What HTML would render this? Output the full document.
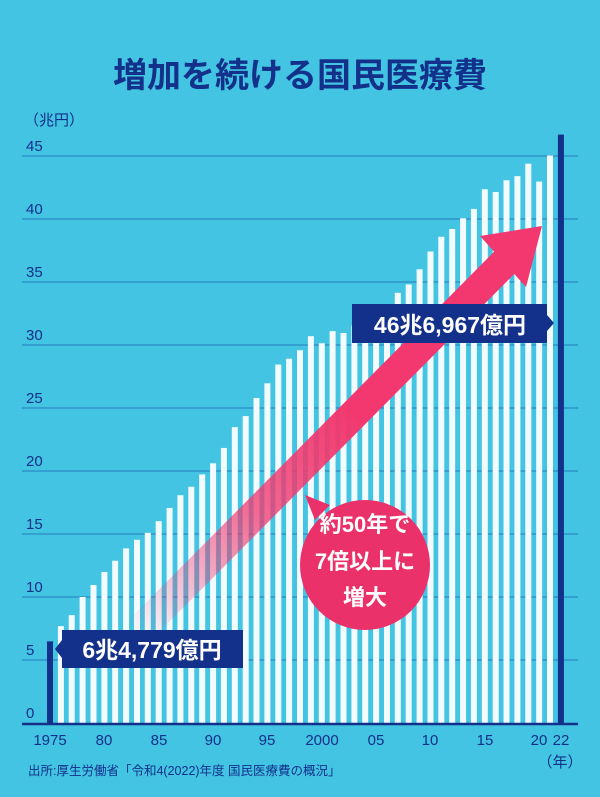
<!DOCTYPE html>
<html><head><meta charset="utf-8"><style>
html,body{margin:0;padding:0}
body{width:600px;height:797px;background:#43c4e2;overflow:hidden;position:relative;font-family:"Liberation Sans","Noto Sans CJK JP",sans-serif}
svg{position:absolute;left:0;top:0}
</style></head><body>
<svg width="600" height="797" viewBox="0 0 600 797">
<defs>
<linearGradient id="ag" gradientUnits="userSpaceOnUse" x1="135" y1="635" x2="540" y2="230">
<stop offset="0" stop-color="#f2386e" stop-opacity="0"/>
<stop offset="0.3" stop-color="#f2386e" stop-opacity="0.75"/>
<stop offset="0.55" stop-color="#f2386e" stop-opacity="1"/>
<stop offset="1" stop-color="#f2386e"/>
</linearGradient>
</defs>
<text x="300" y="87" text-anchor="middle" font-size="34" font-weight="bold" fill="#13308a" font-family="Liberation Sans,Noto Sans CJK JP,sans-serif">増加を続ける国民医療費</text>
<g font-size="15" fill="#13308a" font-family="Liberation Sans,Noto Sans CJK JP,sans-serif">
<text x="24" y="125">（兆円）</text>
<text x="26" y="151">45</text><text x="26" y="214">40</text><text x="26" y="277">35</text><text x="26" y="340">30</text><text x="26" y="403">25</text><text x="26" y="466">20</text><text x="26" y="529">15</text><text x="26" y="592">10</text><text x="26" y="655">5</text><text x="26" y="718">0</text>
</g>
<g stroke="#2f93c9" stroke-width="1.5">
<line x1="22" y1="156" x2="578" y2="156"/><line x1="22" y1="219" x2="578" y2="219"/><line x1="22" y1="282" x2="578" y2="282"/><line x1="22" y1="345" x2="578" y2="345"/><line x1="22" y1="408" x2="578" y2="408"/><line x1="22" y1="471" x2="578" y2="471"/><line x1="22" y1="534" x2="578" y2="534"/><line x1="22" y1="597" x2="578" y2="597"/><line x1="22" y1="660" x2="578" y2="660"/>
</g>
<g transform="translate(0,723) scale(1,-12.6)" fill="#f2fcff">
<rect x="47" y="0" width="6" height="6.48" fill="#13308a"/>
<rect x="57.9" y="0" width="6" height="7.69"/>
<rect x="68.7" y="0" width="6" height="8.56"/>
<rect x="79.6" y="0" width="6" height="10.00"/>
<rect x="90.5" y="0" width="6" height="10.95"/>
<rect x="101.4" y="0" width="6" height="11.98"/>
<rect x="112.2" y="0" width="6" height="12.88"/>
<rect x="123.1" y="0" width="6" height="13.86"/>
<rect x="134" y="0" width="6" height="14.54"/>
<rect x="144.8" y="0" width="6" height="15.09"/>
<rect x="155.7" y="0" width="6" height="16.02"/>
<rect x="166.6" y="0" width="6" height="17.07"/>
<rect x="177.4" y="0" width="6" height="18.08"/>
<rect x="188.3" y="0" width="6" height="18.75"/>
<rect x="199.2" y="0" width="6" height="19.73"/>
<rect x="210.1" y="0" width="6" height="20.61"/>
<rect x="220.9" y="0" width="6" height="21.83"/>
<rect x="231.8" y="0" width="6" height="23.48"/>
<rect x="242.7" y="0" width="6" height="24.36"/>
<rect x="253.5" y="0" width="6" height="25.79"/>
<rect x="264.4" y="0" width="6" height="26.96"/>
<rect x="275.3" y="0" width="6" height="28.45"/>
<rect x="286.1" y="0" width="6" height="28.91"/>
<rect x="297" y="0" width="6" height="29.58"/>
<rect x="307.9" y="0" width="6" height="30.70"/>
<rect x="318.8" y="0" width="6" height="30.14"/>
<rect x="329.6" y="0" width="6" height="31.10"/>
<rect x="340.5" y="0" width="6" height="30.95"/>
<rect x="351.4" y="0" width="6" height="31.54"/>
<rect x="362.2" y="0" width="6" height="32.11"/>
<rect x="373.1" y="0" width="6" height="33.13"/>
<rect x="384" y="0" width="6" height="33.13"/>
<rect x="394.8" y="0" width="6" height="34.14"/>
<rect x="405.7" y="0" width="6" height="34.81"/>
<rect x="416.6" y="0" width="6" height="36.01"/>
<rect x="427.5" y="0" width="6" height="37.42"/>
<rect x="438.3" y="0" width="6" height="38.59"/>
<rect x="449.2" y="0" width="6" height="39.21"/>
<rect x="460.1" y="0" width="6" height="40.06"/>
<rect x="470.9" y="0" width="6" height="40.80"/>
<rect x="481.8" y="0" width="6" height="42.36"/>
<rect x="492.7" y="0" width="6" height="42.14"/>
<rect x="503.5" y="0" width="6" height="43.07"/>
<rect x="514.4" y="0" width="6" height="43.40"/>
<rect x="525.3" y="0" width="6" height="44.39"/>
<rect x="536.2" y="0" width="6" height="42.97"/>
<rect x="547" y="0" width="6" height="45.04"/>
<rect x="557.9" y="0" width="6" height="46.70" fill="#13308a"/>
</g>
<line x1="22" y1="724" x2="578" y2="724" stroke="#13308a" stroke-width="2.5"/>
<g font-size="15" fill="#13308a" text-anchor="middle" font-family="Liberation Sans,Noto Sans CJK JP,sans-serif">
<text x="50" y="745">1975</text><text x="104" y="745">80</text><text x="159" y="745">85</text><text x="213" y="745">90</text><text x="267" y="745">95</text><text x="322" y="745">2000</text><text x="376" y="745">05</text><text x="430" y="745">10</text><text x="485" y="745">15</text><text x="539" y="745">20</text><text x="561" y="745">22</text><text x="560" y="767">（年）</text>
</g>
<text x="28" y="775" font-size="12.5" fill="#13308a" font-family="Liberation Sans,Noto Sans CJK JP,sans-serif">出所:厚生労働省「令和4(2022)年度 国民医療費の概況」</text>
<polygon points="124.4,624.4 145.6,645.6 515.6,272.6 494.4,251.4" fill="url(#ag)"/>
<polygon points="480,236 542,226 526,287" fill="#f2386e"/>
<polygon points="305,495 330,505 315,520" fill="#ea3169"/>
<circle cx="365" cy="565" r="65" fill="#ea3169"/>
<g font-size="22" font-weight="bold" fill="#fff" text-anchor="middle" font-family="Liberation Sans,Noto Sans CJK JP,sans-serif">
<text x="365" y="532">約50年で</text><text x="365" y="569">7倍以上に</text><text x="365" y="605">増大</text>
</g>
<polygon points="62,640 55,649 62,658" fill="#13308a"/>
<rect x="62" y="630" width="181" height="38" fill="#13308a"/>
<text x="152" y="658" text-anchor="middle" font-size="23" font-weight="bold" fill="#fff" font-family="Liberation Sans,Noto Sans CJK JP,sans-serif">6兆4,779億円</text>
<rect x="352" y="304" width="195" height="39" fill="#13308a"/>
<polygon points="547,315 554,323 547,331" fill="#13308a"/>
<text x="450" y="333" text-anchor="middle" font-size="23" font-weight="bold" fill="#fff" font-family="Liberation Sans,Noto Sans CJK JP,sans-serif">46兆6,967億円</text>
</svg>
</body></html>
